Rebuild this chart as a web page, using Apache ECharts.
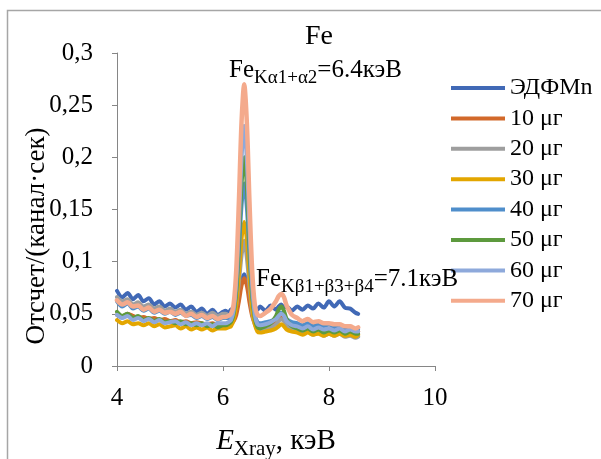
<!DOCTYPE html>
<html><head><meta charset="utf-8">
<script src="https://cdn.jsdelivr.net/npm/echarts@6/dist/echarts.min.js"></script>
<style>html,body{margin:0;padding:0;background:#fff}#c{width:601px;height:459px}</style>
</head><body><div id="c"></div>
<script>
// Energy, keV
const energy = [4.0,4.1,4.2,4.3,4.4,4.5,4.6,4.7,4.8,4.9,5.0,5.1,5.2,5.3,5.4,5.5,5.6,5.7,5.8,5.9,6.0,
  6.05,6.1,6.15,6.2,6.25,6.3,6.35,6.4,6.45,6.5,6.55,6.6,6.65,6.7,
  6.8,6.9,7.0,7.05,7.1,7.15,7.2,7.3,7.4,7.5,7.6,7.7,7.8,7.9,8.0,8.1,8.2,8.3,8.4,8.5,8.55];

const seriesNames = ['ЭДФMn','10 μг','20 μг','30 μг','40 μг','50 μг','60 μг','70 μг'];

const sEDFMn = [0.072,0.066,0.070,0.064,0.068,0.062,0.065,0.059,0.062,0.057,0.060,0.056,0.059,0.054,0.057,0.052,0.055,0.050,0.054,0.049,0.052,
  0.053,0.051,0.054,0.055,0.061,0.070,0.082,0.088,0.081,0.069,0.060,0.055,0.054,0.057,
  0.053,0.058,0.054,0.057,0.059,0.056,0.057,0.053,0.057,0.054,0.058,0.055,0.060,0.056,0.062,0.057,0.062,0.056,0.055,0.051,0.050];
const s10 = [0.049,0.047,0.050,0.048,0.046,0.047,0.045,0.046,0.044,0.045,0.043,0.044,0.042,0.043,0.041,0.042,0.041,0.040,0.041,0.039,0.040,
  0.040,0.041,0.041,0.043,0.049,0.062,0.077,0.084,0.077,0.061,0.048,0.041,0.038,0.037,
  0.038,0.039,0.042,0.045,0.047,0.045,0.042,0.039,0.038,0.037,0.038,0.036,0.037,0.035,0.036,0.035,0.036,0.034,0.035,0.034,0.033];
const s20 = [0.066,0.062,0.064,0.059,0.061,0.057,0.059,0.055,0.057,0.053,0.055,0.052,0.054,0.050,0.052,0.049,0.051,0.048,0.051,0.048,0.050,
  0.050,0.049,0.049,0.050,0.058,0.080,0.106,0.120,0.104,0.076,0.051,0.040,0.036,0.035,
  0.036,0.037,0.040,0.043,0.045,0.043,0.039,0.035,0.033,0.031,0.033,0.030,0.032,0.029,0.031,0.029,0.031,0.028,0.029,0.027,0.028];
const s30 = [0.044,0.041,0.043,0.040,0.041,0.039,0.041,0.038,0.040,0.037,0.038,0.039,0.036,0.038,0.035,0.037,0.035,0.037,0.034,0.036,0.036,
  0.036,0.037,0.038,0.044,0.059,0.088,0.122,0.138,0.121,0.086,0.055,0.040,0.033,0.032,
  0.033,0.034,0.036,0.038,0.040,0.038,0.035,0.033,0.032,0.030,0.032,0.030,0.031,0.029,0.031,0.029,0.031,0.029,0.030,0.028,0.030];
const s40 = [0.062,0.057,0.060,0.055,0.057,0.053,0.055,0.051,0.053,0.050,0.052,0.049,0.051,0.048,0.049,0.046,0.048,0.045,0.047,0.044,0.046,
  0.046,0.046,0.047,0.053,0.072,0.110,0.154,0.175,0.152,0.107,0.068,0.049,0.042,0.041,
  0.042,0.043,0.046,0.049,0.051,0.049,0.045,0.042,0.041,0.039,0.041,0.038,0.040,0.038,0.040,0.037,0.039,0.036,0.037,0.035,0.035];
const s50 = [0.052,0.048,0.050,0.046,0.048,0.044,0.046,0.043,0.045,0.042,0.043,0.041,0.043,0.040,0.041,0.039,0.041,0.038,0.040,0.037,0.039,
  0.039,0.040,0.042,0.050,0.074,0.120,0.174,0.200,0.172,0.117,0.070,0.046,0.037,0.036,
  0.038,0.041,0.048,0.054,0.057,0.053,0.045,0.038,0.036,0.034,0.036,0.033,0.035,0.032,0.034,0.032,0.034,0.031,0.033,0.031,0.031];
const s60 = [0.049,0.046,0.048,0.044,0.046,0.043,0.045,0.042,0.044,0.041,0.042,0.043,0.040,0.042,0.039,0.041,0.039,0.041,0.038,0.041,0.041,
  0.041,0.042,0.044,0.053,0.081,0.135,0.199,0.230,0.197,0.132,0.077,0.049,0.040,0.039,
  0.040,0.042,0.045,0.048,0.050,0.048,0.043,0.039,0.038,0.036,0.038,0.035,0.037,0.035,0.036,0.034,0.036,0.033,0.035,0.033,0.033];
const s70 = [0.063,0.059,0.061,0.057,0.058,0.054,0.056,0.052,0.054,0.051,0.052,0.050,0.052,0.048,0.050,0.047,0.049,0.046,0.048,0.045,0.047,
  0.047,0.048,0.050,0.059,0.092,0.158,0.234,0.270,0.233,0.157,0.092,0.059,0.049,0.048,
  0.051,0.055,0.062,0.067,0.069,0.066,0.058,0.049,0.046,0.043,0.045,0.042,0.043,0.041,0.041,0.040,0.040,0.038,0.038,0.036,0.037];

const seriesValues = [sEDFMn, s10, s20, s30, s40, s50, s60, s70];
const seriesColors = ['#4169B6','#D2692A','#9E9E9E','#E3A600','#4F8ECB','#5D9A3E','#8EA9DB','#F4AA8C'];

const xTicks = {min: 4, max: 10, interval: 2};
const yTicks = {min: 0, max: 0.3, interval: 0.05};

const FONT = 'Liberation Serif';
const rt = (size, extra) => Object.assign({fontFamily: FONT, fontSize: size, color: '#000', lineHeight: size}, extra || {});

const chart = echarts.init(document.getElementById('c'), null, {renderer: 'canvas'});

const series = seriesNames.map((name, i) => ({
  name: name,
  type: 'line',
  data: energy.map((x, j) => [x, seriesValues[i][j]]),
  showSymbol: false,
  symbol: 'none',
  smooth: 0.3,
  color: seriesColors[i],
  lineStyle: {width: i === 7 ? 4.5 : 4, color: seriesColors[i], cap: 'round', join: 'round'},
  emphasis: {disabled: true},
  z: 2 + i
}));

const subRich = {
  m: {fontFamily: FONT, fontSize: 25, fill: '#000', lineHeight: 25, verticalAlign: 'top'},
  s: {fontFamily: FONT, fontSize: 19, fill: '#000', lineHeight: 19, padding: [11,0,0,0], verticalAlign: 'top'}
};

chart.setOption({
  animation: false,
  backgroundColor: '#fff',
  textStyle: {fontFamily: FONT},
  title: {
    text: '{a|Fe}', left: 314, top: 18, textAlign: 'center',
    textStyle: {fontFamily: FONT, fontSize: 28, fontWeight: 'normal', color: '#000', rich: {a: rt(28)}}
  },
  grid: {left: 117, right: 166, top: 53, bottom: 93, containLabel: false, outerBoundsMode: 'none'},
  legend: {
    orient: 'vertical', left: 446, top: 71,
    icon: 'rect', itemWidth: 54, itemHeight: 4, itemGap: 6.4,
    formatter: n => '{a|' + n + '}',
    textStyle: {fontFamily: FONT, fontSize: 24, color: '#000', lineHeight: 24, rich: {a: rt(24)}},
    data: seriesNames
  },
  xAxis: {
    type: 'value', min: xTicks.min, max: xTicks.max, interval: xTicks.interval,
    axisLine: {show: true, onZero: false, lineStyle: {color: '#868686', width: 1}},
    axisTick: {show: true, inside: false, length: 5, lineStyle: {color: '#868686'}},
    splitLine: {show: false},
    axisLabel: {
      fontFamily: FONT, fontSize: 25, color: '#000', margin: 20,
      formatter: v => '{a|' + v + '}', rich: {a: rt(25)}
    },
    name: '{e|E}{s|Xray}{m|, кэВ}',
    nameLocation: 'middle', nameGap: 61,
    nameTextStyle: {
      rich: {
        e: rt(29, {fontStyle: 'italic', verticalAlign: 'top'}),
        s: rt(21, {padding: [12,0,0,0], verticalAlign: 'top'}),
        m: rt(29, {verticalAlign: 'top'})
      }
    }
  },
  yAxis: {
    type: 'value', min: yTicks.min, max: yTicks.max, interval: yTicks.interval,
    axisLine: {show: true, lineStyle: {color: '#868686', width: 1}},
    axisTick: {show: true, inside: false, length: 5, lineStyle: {color: '#868686'}},
    splitLine: {show: false},
    axisLabel: {
      fontFamily: FONT, fontSize: 25, color: '#000', margin: 24,
      formatter: v => '{a|' + String(+v.toFixed(2)).replace('.', ',') + '}',
      rich: {a: rt(25)}
    }
  },
  graphic: [
    {type: 'rect', silent: true, z: -10, shape: {x: 7.5, y: 10.5, width: 640, height: 480},
     style: {fill: 'none', stroke: '#A6A6A6', lineWidth: 1.5}},
    {type: 'text', silent: true, x: 37, y: 236, rotation: Math.PI / 2,
     style: {text: 'Отсчет/(канал·сек)', font: '27px "Liberation Serif"', fill: '#000', align: 'center', verticalAlign: 'middle'}},
    {type: 'text', silent: true, x: 229, y: 58, z: 20,
     style: {text: '{m|Fe}{s|Kα1+α2}{m|=6.4кэВ}', rich: subRich}},
    {type: 'text', silent: true, x: 256, y: 267, z: 20,
     style: {text: '{m|Fe}{s|Kβ1+β3+β4}{m|=7.1кэВ}', rich: subRich}}
  ],
  series: series
});
</script>
</body></html>
